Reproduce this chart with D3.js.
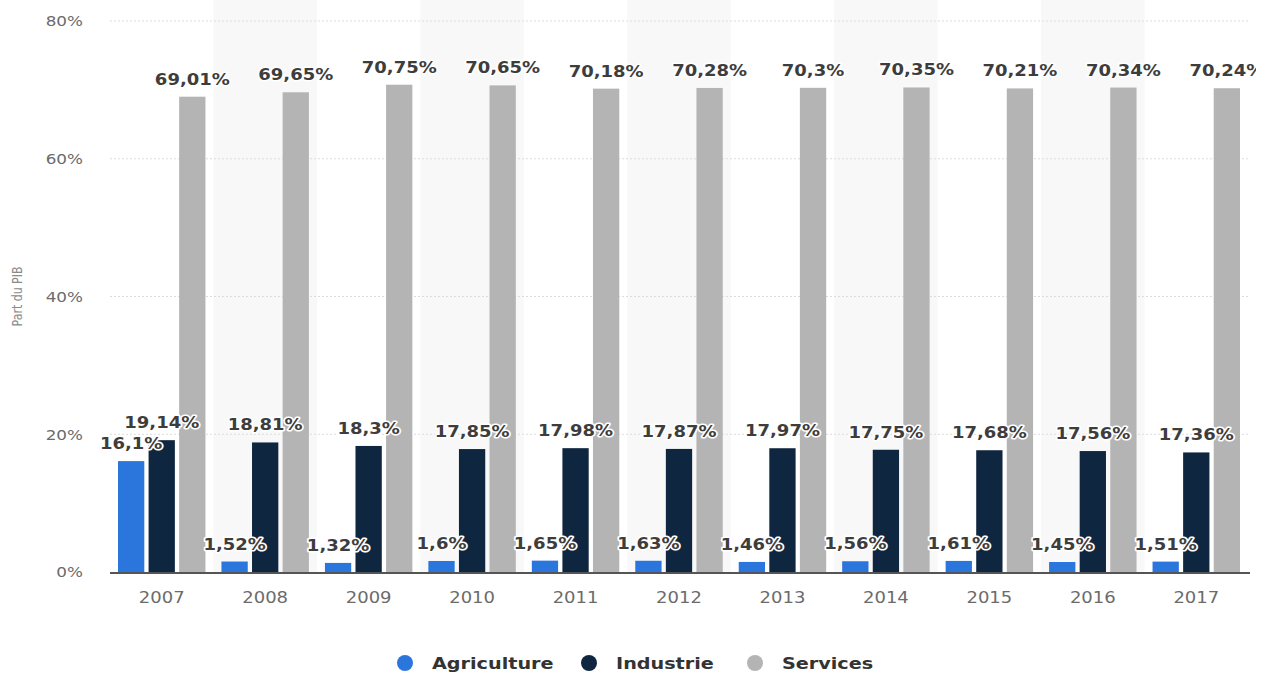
<!DOCTYPE html>
<html>
<head>
<meta charset="utf-8">
<script src="https://cdn.jsdelivr.net/npm/d3@7"></script>
<style>
  body { margin: 0; background: #fff; }
  text { font-family: "DejaVu Sans", Verdana, sans-serif; }
</style>
</head>
<body>
<div id="chart"></div>
<script>
// data
const years = ["2007", "2008", "2009", "2010", "2011", "2012", "2013", "2014", "2015", "2016", "2017"];
const series = ["Agriculture", "Industrie", "Services"];
const agriculture = [16.1, 1.52, 1.32, 1.6, 1.65, 1.63, 1.46, 1.56, 1.61, 1.45, 1.51];
const industrie = [19.14, 18.81, 18.3, 17.85, 17.98, 17.87, 17.97, 17.75, 17.68, 17.56, 17.36];
const services = [69.01, 69.65, 70.75, 70.65, 70.18, 70.28, 70.3, 70.35, 70.21, 70.34, 70.24];
const yTicks = [0, 20, 40, 60, 80];
const colors = ["#2a76dd", "#0f2640", "#b4b4b4"];

const width = 1270, height = 675;
const margin = {top: 21, right: 22, bottom: 103, left: 110};
const stretch = 1.2; // the original picture is a bit wider than tall

const svg = d3.select("#chart")
    .append("svg")
    .attr("width", width)
    .attr("height", height);

// french style numbers: comma as decimal mark
const fmt = v => String(v).replace(".", ",") + "%";

// put a horizontally stretched text at (px, py)
function stretchedText(parent, px, py, str) {
    return parent.append("g")
        .attr("transform", `translate(${px}, ${py}) scale(${stretch}, 1)`)
        .append("text")
        .text(str);
}

let x = d3.scaleBand()
    .domain(years)
    .range([margin.left, width - margin.right]);

let x1 = d3.scaleBand()
    .domain(series)
    .range([8, x.bandwidth() - 8])
    .paddingInner(0.14);

let y = d3.scaleLinear()
    .domain([0, 80])
    .range([height - margin.bottom, margin.top]);

// alternating band shading
svg.append("g").selectAll("rect")
    .data(years.filter((d, i) => i % 2 === 1))
    .enter().append("rect")
    .attr("x", d => x(d))
    .attr("y", 0)
    .attr("width", x.bandwidth())
    .attr("height", y(0))
    .attr("fill", "#f8f8f8");

// gridlines
svg.append("g").selectAll("line")
    .data(yTicks.filter(d => d > 0))
    .enter().append("line")
    .attr("x1", margin.left)
    .attr("x2", width - margin.right)
    .attr("y1", d => y(d))
    .attr("y2", d => y(d))
    .attr("stroke", "#dcdcdc")
    .attr("stroke-dasharray", "2,2");

// y axis
let yAxis = svg.append("g")
    .attr("transform", `translate(${margin.left - 27}, 0)`)
    .call(d3.axisLeft(y).tickValues(yTicks).tickSize(0).tickPadding(0).tickFormat(d => d + "%"));
yAxis.select(".domain").remove();
yAxis.selectAll("text")
    .attr("fill", "#6b6b6b")
    .style("font-size", "14px")
    .attr("transform", `scale(${stretch}, 1)`)
    .attr("dy", "0.35em");

stretchedText(svg, 22, y(40), "Part du PIB")
    .attr("transform", "rotate(-90)")
    .style("text-anchor", "middle")
    .style("font-size", "11px")
    .attr("fill", "#8a8a8a");

const rows = years.map((yr, i) => ({
    year: yr,
    values: [agriculture[i], industrie[i], services[i]]
}));

let groups = svg.append("g").selectAll("g")
    .data(rows)
    .enter().append("g")
    .attr("transform", d => `translate(${x(d.year)}, 0)`);

groups.selectAll("rect")
    .data(d => d.values.map((v, j) => ({key: series[j], value: v, j: j})))
    .enter().append("rect")
    .attr("x", d => x1(d.key))
    .attr("y", d => y(d.value))
    .attr("width", x1.bandwidth())
    .attr("height", d => y(0) - y(d.value))
    .attr("fill", d => colors[d.j]);

// x axis
svg.append("line")
    .attr("x1", margin.left)
    .attr("x2", width - margin.right + 2)
    .attr("y1", y(0) + 1)
    .attr("y2", y(0) + 1)
    .attr("stroke", "#555")
    .attr("stroke-width", 2);

let xAxis = svg.append("g")
    .attr("transform", `translate(0, ${y(0)})`)
    .call(d3.axisBottom(x).tickSize(0).tickPadding(20));
xAxis.select(".domain").remove();
xAxis.selectAll("text")
    .attr("fill", "#6b6b6b")
    .style("font-size", "15px")
    .attr("transform", `scale(${stretch}, 1)`);

// value labels, clipped at right edge like the original
svg.append("clipPath").attr("id", "clip")
    .append("rect").attr("x", 0).attr("y", 0).attr("width", 1256).attr("height", height);

let labels = svg.append("g").attr("clip-path", "url(#clip)");
groups.each(function (d) {
    d.values.forEach((v, j) => {
        stretchedText(labels, x(d.year) + x1(series[j]) + x1.bandwidth() / 2, y(v) - 12, fmt(v))
            .style("text-anchor", "middle")
            .style("font-size", "15px")
            .style("font-weight", "bold")
            .attr("fill", "#3d3d3d")
            .attr("stroke", "#fff")
            .attr("stroke-width", 3)
            .attr("stroke-linejoin", "round")
            .attr("paint-order", "stroke");
    });
});

// legend
const legendX = [405, 589, 755];
let legend = svg.append("g");
series.forEach((s, i) => {
    legend.append("circle")
        .attr("cx", legendX[i])
        .attr("cy", 663)
        .attr("r", 8)
        .attr("fill", colors[i]);
    stretchedText(legend, legendX[i] + 27, 669, s)
        .style("font-size", "16px")
        .style("font-weight", "bold")
        .attr("fill", "#333");
});
</script>
</body>
</html>
